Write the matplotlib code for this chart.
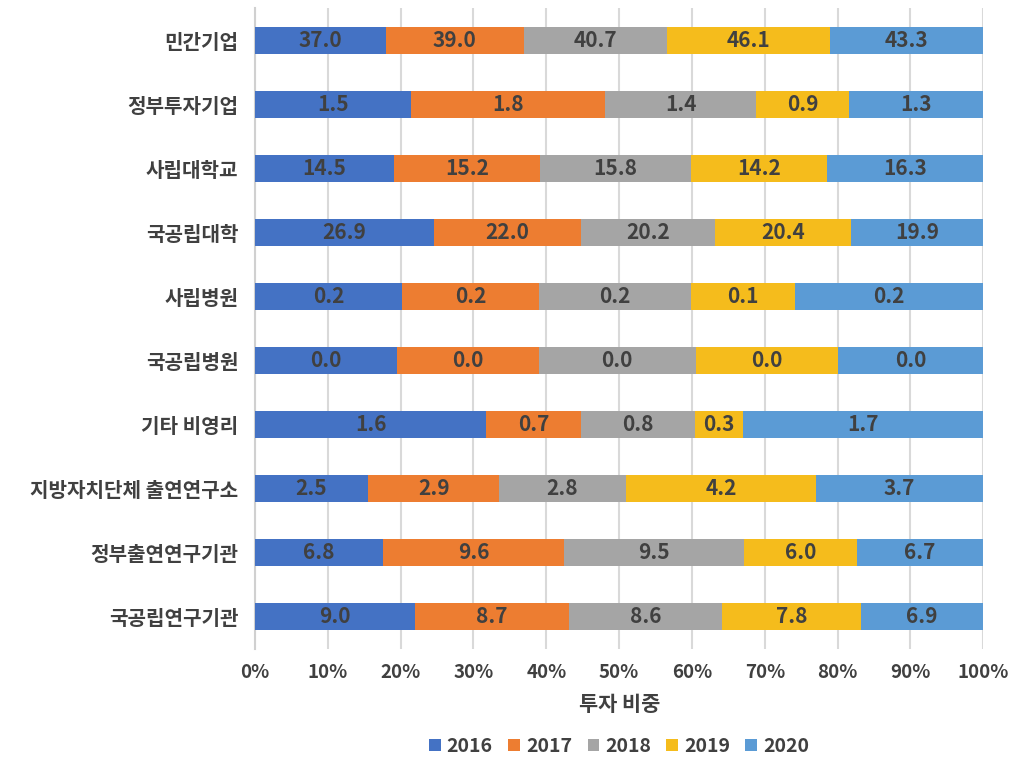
import numpy as np
import matplotlib.pyplot as plt
from matplotlib.ticker import PercentFormatter

plt.rcParams['font.family'] = ['Noto Sans CJK KR', 'DejaVu Sans']

categories = ['민간기업', '정부투자기업', '사립대학교', '국공립대학', '사립병원',
              '국공립병원', '기타 비영리', '지방자치단체 출연연구소',
              '정부출연연구기관', '국공립연구기관']
years = ['2016', '2017', '2018', '2019', '2020']

# shown labels are rounded to one decimal
v2016 = [37.0, 1.48, 14.5, 26.9, 0.183, 0.039, 1.62, 2.5, 6.8, 9.0]
v2017 = [39.0, 1.84, 15.2, 22.0, 0.17, 0.039, 0.66, 2.9, 9.6, 8.7]
v2018 = [40.7, 1.43, 15.8, 20.2, 0.19, 0.043, 0.80, 2.8, 9.5, 8.6]
v2019 = [46.1, 0.88, 14.2, 20.4, 0.129, 0.039, 0.34, 4.2, 6.0, 7.8]
v2020 = [43.3, 1.27, 16.3, 19.9, 0.234, 0.040, 1.68, 3.7, 6.7, 6.9]

colors = ['#4472C4', '#ED7D31', '#A5A5A5', '#F5BC1C', '#5B9BD5']
text_color = '#404040'

data = np.array([v2016, v2017, v2018, v2019, v2020])
share = data / data.sum(axis=0) * 100

fig = plt.figure(figsize=(10.1, 7.58), dpi=100)
ax = fig.add_axes([0.2525, 0.144, 0.721, 0.845])

y = np.arange(len(categories))
left = np.zeros(len(categories))
for i, year in enumerate(years):
    bars = ax.barh(y, share[i], left=left, height=0.42, color=colors[i],
                   label=year, zorder=3)
    ax.bar_label(bars, labels=['%.1f' % v for v in data[i]],
                 label_type='center', color=text_color, fontsize=15,
                 fontweight='bold')
    left += share[i]

ax.set_xlim(0, 100)
ax.set_ylim(len(categories) - 0.5, -0.5)
ax.set_yticks(y)
ax.set_yticklabels(categories, fontsize=14.5, fontweight='bold', color=text_color)
ax.set_xticks(np.arange(0, 101, 10))
ax.xaxis.set_major_formatter(PercentFormatter(decimals=0))
ax.tick_params(axis='x', labelsize=13.5, colors=text_color, length=0, pad=10)
ax.tick_params(axis='y', length=0, pad=12)
for lab in ax.get_xticklabels():
    lab.set_fontweight('bold')

ax.grid(axis='x', color='#d9d9d9', linewidth=1.5, zorder=0)
for s in ['top', 'right', 'bottom']:
    ax.spines[s].set_visible(False)
ax.spines['left'].set_color('#d0d0d0')
ax.spines['left'].set_linewidth(1.5)

ax.set_xlabel('투자 비중', fontsize=15, fontweight='bold', color=text_color,
              labelpad=9)

ax.legend(loc='center', bbox_to_anchor=(0.5, -0.152), ncol=5,
          frameon=False, handlelength=0.6, handleheight=0.6,
          handletextpad=0.3, columnspacing=0.8,
          prop={'weight': 'bold', 'size': 14})
for t in ax.get_legend().get_texts():
    t.set_color(text_color)

fig.savefig('out.png', dpi=100)
